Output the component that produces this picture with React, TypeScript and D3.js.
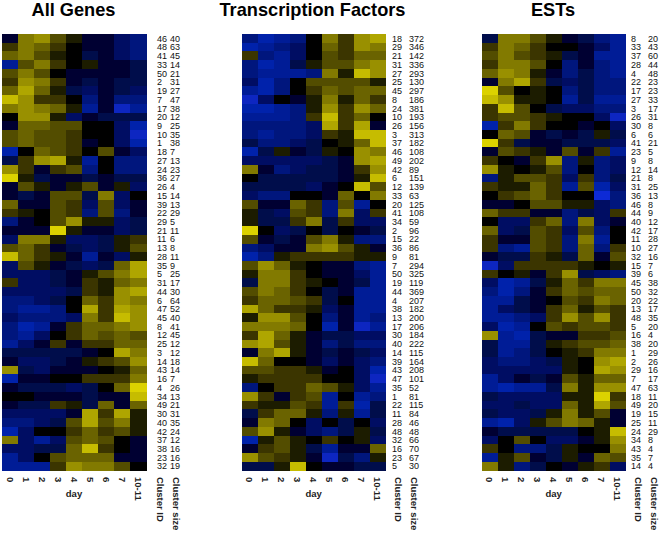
import React from "react";
import * as d3 from "d3";

const days = ["0", "1", "2", "3", "4", "5", "6", "7", "10-11"];

const genesIds = [46,48,41,33,50,2,19,7,17,20,9,10,1,18,27,24,36,26,15,39,22,29,21,11,13,28,35,5,31,44,6,47,45,8,12,25,3,14,43,16,4,34,49,30,40,42,37,38,23,32];
const genesSizes = [40,63,45,14,21,31,27,47,38,12,25,35,38,7,13,23,27,4,14,13,29,5,11,6,8,11,9,25,17,30,64,52,40,41,45,12,12,18,14,7,26,13,21,31,35,24,12,16,16,19];
const genesValues = [
[-1,5,6,3,1,-1,-1,-3,-4],[2,5,4,2,0,-1,-1,-3,-4],[4,5,3,1,0,-2,-1,-3,-4],[-5,3,5,2,0,1,-1,-1,-2],[3,5,3,0,-1,-1,-1,-1,-2],
[2,6,5,2,-1,-2,-1,-2,-2],[4,7,4,1,-2,-3,-1,-2,-3],[8,6,2,2,0,-4,-1,-4,-4],[5,6,5,4,1,-5,-1,-7,-5],[0,6,6,1,-3,-1,-2,-2,-2],
[-1,4,4,3,3,0,0,-3,-6],[3,4,3,3,2,0,0,-3,-7],[3,4,3,3,2,-1,0,-3,-6],[-6,0,4,3,2,0,3,-1,-3],[-2,2,6,7,1,-5,0,-4,-4],
[6,2,-1,2,3,-4,0,-4,-4],[9,1,-2,-1,-1,-2,-1,-2,-2],[-1,3,1,-1,1,3,-1,1,-3],[-1,-2,-1,3,3,-2,5,-3,0],[4,-1,-1,3,2,-3,3,-3,-1],
[2,1,0,3,2,-4,3,-4,-1],[-4,-1,0,3,6,1,1,-3,-2],[-1,-1,-1,9,1,-1,-1,-3,-2],[-3,5,5,1,-3,-3,-2,1,2],[3,4,2,-1,-2,-3,-2,1,3],
[8,4,2,1,-1,-5,-1,-3,1],[-3,3,1,-1,-2,-3,-2,4,7],[-3,-3,-3,-2,-1,1,3,5,7],[2,-3,-3,-2,-1,2,1,4,5],[-3,-3,-3,-3,-2,2,1,6,7],
[-4,-4,-3,-2,0,4,2,6,5],[-4,-5,-5,-4,0,7,2,7,6],[-3,-4,-4,-4,-3,5,2,8,6],[-4,-6,-5,-1,2,4,4,5,6],[-4,-5,-3,0,2,4,3,4,3],
[-5,-3,-1,2,-1,2,2,4,4],[-2,-2,-2,-2,-2,-1,0,7,5],[-1,-3,-3,-2,-1,1,2,3,6],[6,-2,-3,-1,-1,-1,0,1,4],[-6,-1,-1,0,0,2,2,2,5],
[-1,-2,-2,-2,-3,-2,0,4,9],[0,0,-1,-1,-1,-2,-1,-1,8],[-1,-2,-2,2,1,-2,4,-1,4],[-3,-3,-3,-3,-1,7,2,7,1],[-4,-4,-3,-2,3,7,3,5,1],
[-6,-3,0,0,2,4,2,3,1],[5,-3,-5,-3,3,4,3,0,-1],[-3,-3,-2,-2,4,8,2,0,-1],[-5,-3,0,3,4,4,4,-1,-1],[-5,-5,-5,2,6,5,5,3,0],
];

const tfIds = [18,29,21,31,27,25,45,8,24,10,26,3,37,46,49,42,6,12,33,20,41,34,2,15,36,9,7,50,19,44,4,38,13,17,30,40,14,39,43,47,35,1,22,11,28,48,32,16,23,5];
const tfSizes = [372,346,142,336,293,130,297,186,381,193,156,313,182,108,202,89,151,139,63,125,108,59,96,22,86,81,294,325,119,369,207,182,200,206,184,222,115,164,208,101,52,81,115,84,46,48,66,70,67,30];
const tfValues = [
[-4,-6,-5,-4,0,5,2,6,7],[-6,-5,-4,-3,0,4,2,6,5],[2,-4,-5,-3,0,3,2,4,4],[-4,-6,-5,-2,1,3,3,5,6],[-4,-5,-5,-5,-4,5,1,8,6],
[-3,-6,-4,0,3,3,3,3,1],[-5,-6,-4,0,2,4,3,4,4],[-7,-3,0,-1,1,5,1,4,2],[-6,-6,-5,-4,1,6,2,6,4],[-5,-5,-5,-4,2,8,2,4,0],
[-4,-4,-4,-4,-3,7,2,7,-1],[-4,-5,-4,-4,-3,2,1,8,8],[-2,-4,-4,-3,-2,0,1,4,8],[-6,-2,1,-1,-2,1,0,6,5],[-3,-3,-3,-3,-3,-2,-1,6,7],
[5,-1,-4,-3,-2,-2,-1,2,6],[0,-2,-2,-2,-2,-2,-1,1,8],[-2,-2,-2,-2,-3,-1,0,8,3],[-3,-4,-4,0,0,-1,4,0,5],[3,-1,-1,4,2,-4,3,-5,0],
[1,-2,-3,3,2,-4,5,-3,2],[1,-2,-2,2,5,-2,2,-3,-3],[9,0,-3,-2,0,-2,0,-1,-2],[3,-1,-2,-1,3,5,1,-4,-4],[-4,-3,-1,-1,5,6,3,1,-1],
[-6,-4,1,2,2,2,2,1,1],[3,6,4,1,0,-1,-1,-4,-5],[1,5,5,2,0,-1,-1,-3,-5],[-2,5,5,2,1,0,-1,-2,-5],[3,5,4,2,0,-2,-1,-5,-5],
[2,4,4,3,2,-2,0,-5,-5],[7,4,2,2,1,-3,-1,-5,-5],[1,6,6,3,0,-4,-1,-5,-4],[5,5,5,4,0,-6,-1,-7,-5],[2,7,4,1,-1,-2,-2,-3,-3],
[6,7,3,1,-1,-4,-2,-4,-4],[-1,5,7,1,-1,-2,-1,-2,-3],[8,4,0,0,-1,-3,-1,-3,-4],[3,3,2,2,1,-1,0,-3,-6],[1,2,2,2,2,0,0,-3,-7],
[-4,0,2,2,4,3,1,-3,-5],[6,2,-1,2,3,-5,0,-5,-4],[2,1,1,3,2,-5,2,-6,-2],[-2,2,4,4,1,-4,1,-5,-2],[-1,5,4,0,-3,0,-2,0,-3],
[3,6,1,-1,-3,-4,-2,1,-2],[-6,1,3,1,0,2,0,1,-3],[-1,2,3,1,-2,-5,-1,-1,4],[6,3,2,1,-1,-7,-2,-4,1],[-2,-2,1,8,0,-1,-1,-2,-2],
];

const estIds = [8,33,37,28,4,22,17,27,3,26,30,6,41,23,9,12,21,31,36,46,44,40,42,11,10,32,15,39,45,50,20,13,48,5,16,38,1,2,29,7,47,18,49,19,25,24,34,43,35,14];
const estSizes = [20,43,60,44,48,23,23,33,17,31,8,6,21,5,8,14,8,25,13,8,9,12,17,28,27,16,7,6,38,32,22,17,35,20,4,20,29,26,16,17,63,11,20,15,11,29,8,4,7,4];
const estValues = [
[-2,5,5,3,1,-1,-2,-4,-5],[2,5,4,2,0,0,-1,-3,-5],[3,5,3,2,1,-2,-1,-5,-5],[2,5,5,3,0,-4,-1,-4,-5],[4,6,5,1,-1,-4,-2,-4,-5],
[-1,5,7,2,-2,-3,-2,-4,-4],[9,3,0,1,0,-4,-2,-4,-4],[8,6,1,1,0,-5,-2,-5,-5],[2,8,3,0,-2,-3,-3,-4,-4],[2,3,3,2,1,0,0,-3,-7],
[-6,2,5,2,0,0,-1,0,-3],[0,4,3,-1,-2,-1,-2,1,-2],[9,2,-2,-1,-1,-2,-2,-2,-3],[-1,3,2,1,-1,3,-1,2,-5],[2,0,-1,2,6,-4,1,-4,-3],
[6,1,0,1,3,-4,0,-4,-3],[-4,1,3,3,2,-3,2,-4,-2],[2,1,1,4,2,-5,3,-6,-3],[0,2,3,4,2,0,0,-8,-4],[-1,-1,0,3,3,1,1,-3,-4],
[4,2,2,-1,-1,-4,-2,-3,2],[0,-3,-3,2,4,-4,5,-3,-1],[4,-3,-2,3,2,-3,3,-4,0],[2,-1,-1,3,2,-4,5,-5,0],[2,-4,-5,3,2,-4,4,-4,2],
[-1,-2,-2,2,1,-2,4,-1,3],[-7,-3,2,2,2,2,1,0,1],[2,0,1,-1,2,6,-2,-3,-4],[-3,-6,-5,-2,1,4,2,5,5],[-4,-6,-4,-1,2,4,3,4,4],
[-5,-5,-2,-1,0,3,2,5,4],[-5,-3,-2,-1,2,4,1,3,2],[-5,-5,-4,-3,2,6,3,6,2],[-3,-6,-5,0,3,2,3,3,2],[6,-5,-6,-2,-1,-1,2,2,3],
[-2,-5,-5,-2,1,2,3,3,4],[-2,-5,-4,-2,0,1,2,5,5],[-3,-4,-4,-3,-2,1,0,6,7],[-3,-3,-3,-3,-3,1,0,7,6],[-5,-3,-1,-2,-1,3,1,4,4],
[-5,-6,-5,-5,-2,5,1,6,6],[-2,-3,-3,-3,-3,1,1,9,2],[-3,-3,-2,-3,-3,4,1,7,3],[-2,-3,-3,-2,1,5,1,3,-1],[-5,-6,-3,1,3,5,4,1,-1],
[-1,-2,-2,-2,-2,-2,0,1,8],[-3,0,3,0,-3,-3,-1,1,6],[2,0,-4,-4,-2,1,0,0,5],[-5,1,3,-1,-2,1,-1,4,3],[5,1,-4,-2,0,-1,1,2,-3],
];

const colour = d3
  .scaleLinear<string>()
  .domain([-9, -5, -3, -1, 0, 2, 5, 9])
  .range(["rgb(12,50,235)", "rgb(4,26,150)", "rgb(2,12,100)", "rgb(0,2,50)", "rgb(2,2,4)", "rgb(58,54,0)", "rgb(130,122,0)", "rgb(220,210,0)"]);

const font = "'Liberation Sans', Arial, sans-serif";

function Panel({ title, titleX, ids, sizes, values, left, idX, sizeX, idLabelX, sizeLabelX }: any) {
  const x = d3.scaleBand<string>().domain(days).range([left, left + 144]);
  const rows = d3.range(ids.length).map(String);
  const y = d3.scaleBand<string>().domain(rows).range([34, 470.5]);
  const mid = left + 72;
  const rotated = (tx: number, label: string) => (
    <text
      key={label}
      transform={`translate(${tx},477) rotate(90)`}
      fontFamily={font}
      fontSize={9.5}
      fontWeight="bold"
      fill="#222"
      dominantBaseline="central"
    >
      {label}
    </text>
  );
  return (
    <g>
      <text x={titleX} y={16} textAnchor="middle" fontFamily={font} fontSize={18.2} fontWeight="bold" fill="#000">
        {title}
      </text>
      <g filter="url(#soft)" shapeRendering="crispEdges">
        {values.map((row: number[], r: number) =>
          row.map((v: number, c: number) => (
            <rect
              key={`${r}-${c}`}
              x={x(days[c])}
              y={y(String(r))}
              width={x.bandwidth() + 0.5}
              height={y.bandwidth() + 0.5}
              fill={colour(v)}
            />
          ))
        )}
      </g>
      {ids.map((id: number, r: number) => (
        <g key={r} fontFamily={font} fontSize={9} fill="#111">
          <text x={idX} y={y(String(r))! + y.bandwidth() / 2 + 3.3}>{id}</text>
          <text x={sizeX} y={y(String(r))! + y.bandwidth() / 2 + 3.3}>{sizes[r]}</text>
        </g>
      ))}
      {days.map((d) => rotated(x(d)! + x.bandwidth() / 2, d))}
      <text x={mid} y={497} textAnchor="middle" fontFamily={font} fontSize={9.5} fontWeight="bold" fill="#222">
        day
      </text>
      {rotated(idLabelX, "Cluster ID")}
      {rotated(sizeLabelX, "Cluster size")}
    </g>
  );
}

export default function App() {
  return (
    <svg
      width={661}
      height={534}
      style={{ position: "absolute", top: 0, left: 0, background: "#fff" }}
    >
      <defs>
        <filter id="soft" x="-2%" y="-2%" width="104%" height="104%">
          <feGaussianBlur stdDeviation="0.6" />
        </filter>
      </defs>
      <Panel title="All Genes" titleX={73.5} ids={genesIds} sizes={genesSizes} values={genesValues} left={2} idX={157} sizeX={170} idLabelX={160} sizeLabelX={176} />
      <Panel title="Transcription Factors" titleX={312.5} ids={tfIds} sizes={tfSizes} values={tfValues} left={241.7} idX={392} sizeX={409} idLabelX={398} sizeLabelX={414} />
      <Panel title="ESTs" titleX={553} ids={estIds} sizes={estSizes} values={estValues} left={481.7} idX={631} sizeX={648} idLabelX={638} sizeLabelX={654} />
    </svg>
  );
}
